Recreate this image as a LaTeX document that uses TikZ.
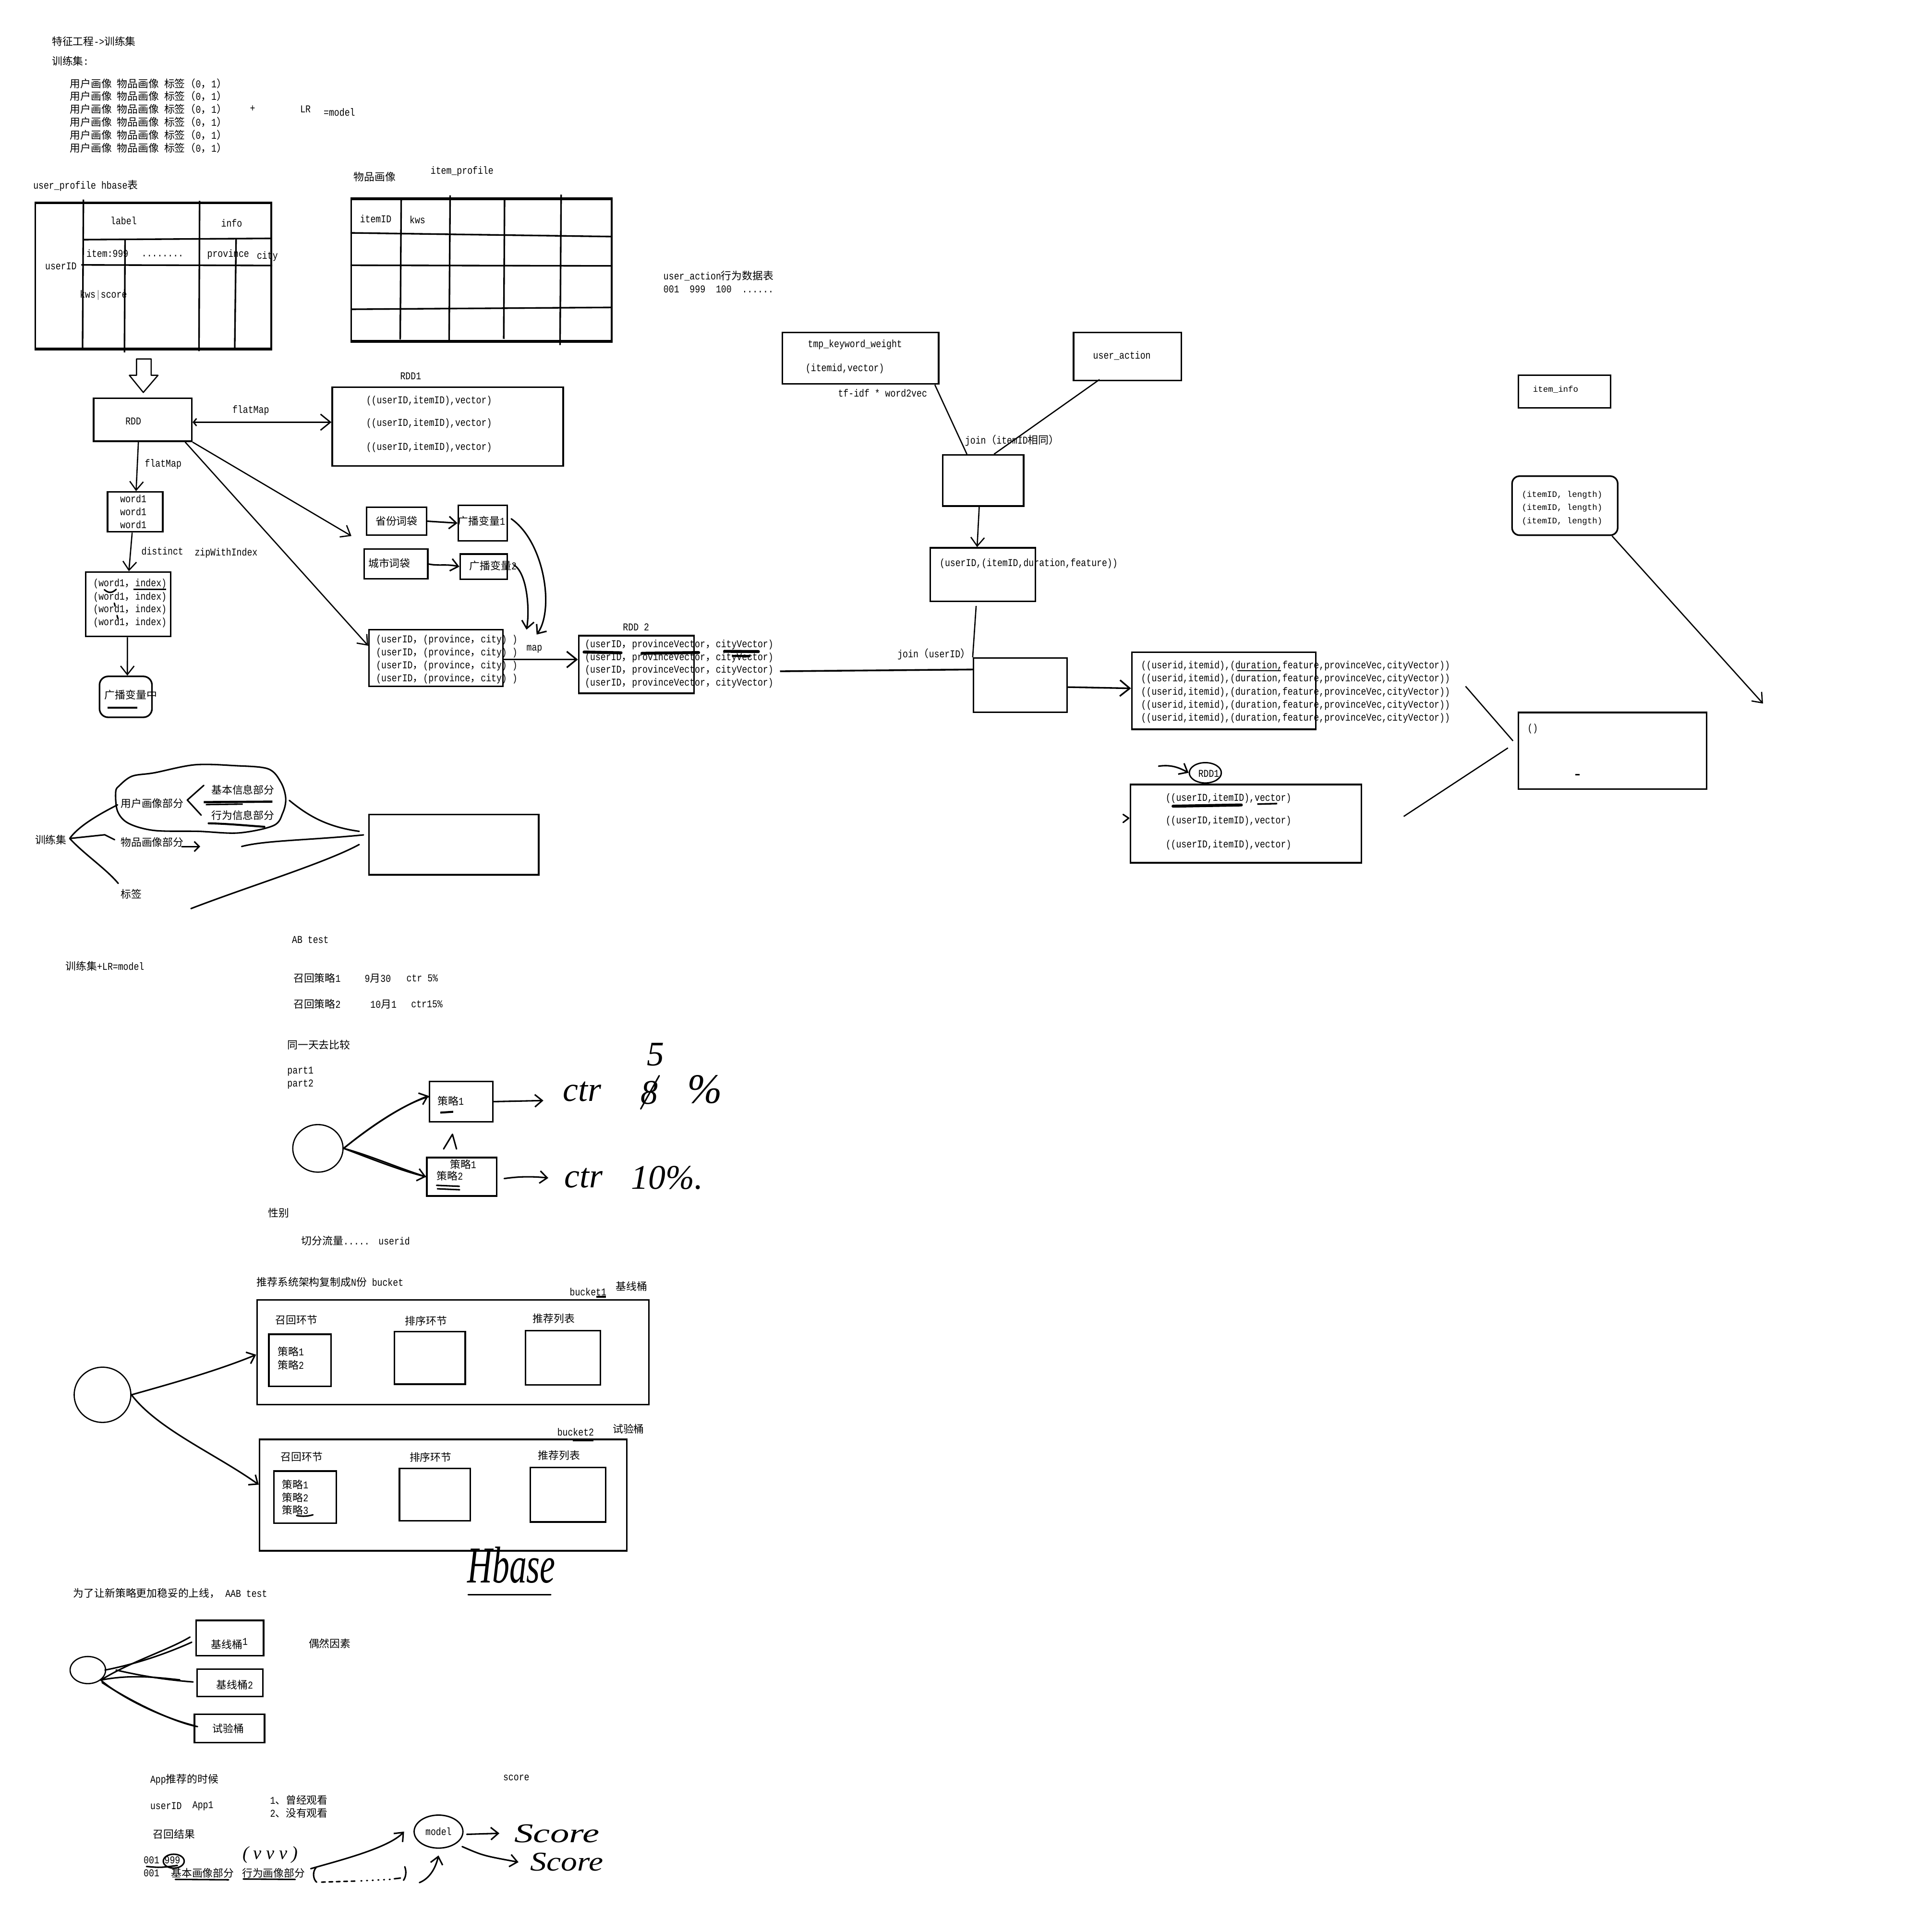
\documentclass[tikz,border=0pt]{standalone}
\usepackage{fontspec}
\setmainfont{Liberation Mono}[FakeStretch=0.833]
\newfontfamily\zhfont{Noto Sans CJK SC}
\newfontfamily\courier{Liberation Mono}
\newfontfamily\hand{Liberation Serif}
\usetikzlibrary{arrows.meta,shapes.geometric}

% CJK characters switch to the CJK family by themselves
\XeTeXinterchartokenstate=1
\newXeTeXintercharclass\zhclass
\newcount\zhcode
\newcommand\setzhrange[3]{%
  \zhcode=#1\relax
  \loop
    \XeTeXcharclass\zhcode=#3\relax
    \ifnum\zhcode<#2\relax
    \advance\zhcode by 1\relax
  \repeat}
\setzhrange{0}{"FF}{0}
\setzhrange{"3000}{"303F}{\zhclass}
\setzhrange{"4E00}{"9FFF}{\zhclass}
\setzhrange{"FF00}{"FFEF}{\zhclass}
\XeTeXinterchartoks 0 \zhclass = {\zhfont}
\XeTeXinterchartoks 4095 \zhclass = {\zhfont}
\XeTeXinterchartoks \zhclass 0 = {\rmfamily}
\XeTeXinterchartoks \zhclass 4095 = {\rmfamily}

\tikzset{
  box/.style={draw,line width=1.3pt,inner sep=0pt,anchor=north west},
  lbl/.style={inner sep=0pt,anchor=west},
  mid/.style={inner sep=0pt},
  ring/.style={draw,ellipse,line width=1pt,inner sep=0pt},
  link/.style={line width=1pt},
  grid/.style={line width=1.3pt},
  arr/.style={line width=1pt,-{Straight Barb[length=7pt,width=11pt]}},
  pen/.style={line width=1.2pt,line cap=round,line join=round},
  penarr/.style={pen,-{Straight Barb[length=6pt,width=10pt]}},
  ink/.style={line width=2.4pt,line cap=round},
  mono/.style={font=\courier\fontsize{6.8}{8}\selectfont},
  hw/.style={inner sep=0pt,font=\hand\itshape\fontsize{28}{30}\selectfont},
}

\begin{document}
\begin{tikzpicture}[x=1pt,y=-1pt,font=\fontsize{8.5}{10}\selectfont]
\useasboundingbox (0,0) rectangle (1549,1568);

% feature engineering notes
\node[lbl] (title) at (42,33.4) {特征工程->训练集};
\node[lbl] (trainhead) at (42,49.4) {训练集:};
\foreach \row [count=\i] in {67.8,78.2,88.7,99.1,109.5,120.1}
  \node[lbl] (sample\i) at (56.6,\row) {用户画像 物品画像 标签（0，1）};
\node[mid] (plus) at (205,88.3) {+};
\node[mid] (lr) at (247.9,88.7) {LR};
\node[lbl] (eqmodel) at (262.5,90.9) {=model};

% user_profile table
\node[lbl] (uptitle) at (26.8,150.6) {user\_profile hbase表};
\node[box,minimum width=191.5,minimum height=117.5] (uptab) at (28,164.5) {};
\draw[line width=2pt] (uptab.north west) -- (uptab.north east) (uptab.south west) -- (uptab.south east);
\draw[grid] (67.7,162) -- (67,284) (162,163) -- (161.5,285) (101.5,194) -- (101,286)
  (191.6,194) -- (190.5,283) (67.7,194.5) -- (219.5,193.5) (66,215) -- (221,215.5);
\node[mid] (uplabel) at (100.3,179.2) {label};
\node[mid] (upinfo) at (188,181.2) {info};
\node[lbl] (upitem) at (70,205.8) {item:999};
\node[lbl] (updots) at (114.7,207.8) {........};
\node[lbl] (upprov) at (168,206.5) {province};
\node[lbl] (upcity) at (208.3,208) {city};
\node[lbl] (upuid) at (36.5,216.2) {userID};
\node[lbl] (upkws) at (64.6,239.6) {kws{\color{gray}|}score};

% item_profile table
\node[lbl] (iptitlezh) at (286.9,143.5) {物品画像};
\node[lbl] (iptitle) at (349.3,139) {item\_profile};
\node[box,minimum width=211.4,minimum height=115] (iptab) at (284.4,161) {};
\draw[line width=2pt] (iptab.north west) -- (iptab.north east) (iptab.south west) -- (iptab.south east);
\draw[grid] (284.4,189) -- (495.8,192) (284.4,215.3) -- (495.8,215.8) (285,251) -- (495.8,249.5)
  (325.6,162) -- (324.8,275.5) (365.3,158.5) -- (364.5,276) (409.5,162) -- (408.8,275)
  (455.4,158) -- (454.5,280);
\node[mid] (ipid) at (304.9,177.7) {itemID};
\node[mid] (ipkws) at (338.8,178.5) {kws};

% hollow arrow down to RDD
\draw[line width=1pt,line join=round] (110.8,291.3) -- (122.7,291.3) -- (122.7,304.6) -- (128.2,304.6)
  -- (116.3,318.5) -- (105,304.6) -- (110.8,304.6) -- cycle;

% RDD pipeline
\node[box,minimum width=79.7,minimum height=35] (rdd) at (75.3,322.5) {};
\node[mid] (rddtxt) at (108.2,342) {RDD};
\node[box,minimum width=187.4,minimum height=63.9] (rddone) at (269,313.5) {};
\node[mid] (rddonetitle) at (333.3,305.2) {RDD1};
\foreach \row [count=\i] in {325.5,343.5,363.2}
  \node[mid] (pairvec\i) at (348.2,\row) {((userID,itemID),vector)};
\draw[line width=1.1pt,{Straight Barb[length=2.5pt,width=6pt]}-{Straight Barb[length=8pt,width=13pt]}]
  ([yshift=-2pt]rdd.east) -- ([yshift=-2pt]rdd.east -| rddone.west);
\node[mid] (flatmapa) at (203.5,333) {flatMap};

\node[box,minimum width=44.8,minimum height=32.4] (wordbox) at (86.6,398.6) {};
\foreach \row [count=\i] in {404.6,415.1,425.7}
  \node[mid] (word\i) at (108.2,\row) {word1};
\draw[arr] ([xshift=-3.5pt]rdd.south) -- ([xshift=0.8pt]wordbox.north);
\node[mid] (flatmapb) at (132.4,376.7) {flatMap};

\node[box,minimum width=69.1,minimum height=52.3] (idxbox) at (68.8,463.6) {};
\foreach \row [count=\i] in {473.8,484.5,495,505.3}
  \node[mid] (wordidx\i) at (105.5,\row) {(word1，index)};
\draw[arr] ([xshift=-2.4pt]wordbox.south) -- ([xshift=0.6pt]idxbox.north);
\node[mid] (distinct) at (131.8,447.3) {distinct};
\node[mid] (zipidx) at (183.5,448.9) {zipWithIndex};
\draw[link] (108.2,478.4) -- (135,478.4);
\draw[pen] (84.7,478.6) .. controls (88,481.5) and (91,481.5) .. (94.3,478.3);
\draw[pen] (92.8,489.5) -- (93.4,492) (95,499.5) -- (95.6,502);

\node[box,rounded corners=7pt,minimum width=42.6,minimum height=33.2] (bcmid) at (80.1,548.3) {};
\node[lbl] (bcmidtxt) at (84.7,564.1) {广播变量中};
\draw[line width=1.6pt] (87.2,574.5) -- (111.4,574.5);
\draw[arr] ([xshift=-0.6pt]idxbox.south) -- ([xshift=1.3pt]bcmid.north);

% broadcast variables
\node[box,minimum width=48.7,minimum height=22.7] (sfbag) at (296.8,411) {省份词袋};
\node[box,minimum width=39.7,minimum height=28.8] (bcone) at (371.3,409.5) {};
\node[lbl] (bconetxt) at (371.5,423) {广播变量1};
\node[box,minimum width=51.5,minimum height=24.2] (csbag) at (295,445) {};
\node[lbl] (csbagtxt) at (298.8,457.1) {城市词袋};
\node[box,minimum width=38.2,minimum height=20.5] (bctwo) at (372.8,449) {};
\node[lbl] (bctwotxt) at (380.8,459) {广播变量2};
\coordinate (sfhint) at (285.2,435);
\draw[arr] (rdd.south east) -- (sfhint);
\draw[penarr] (sfbag.east) -- (bcone.west);
\draw[penarr] (csbag.east) .. controls (356,459.5) and (362,457.5) .. (bctwo.west);

\node[box,minimum width=108.6,minimum height=46] (pcbox) at (298.8,510.4) {};
\foreach \row [count=\i] in {519.5,529.9,540.5,551}
  \node[lbl] (pc\i) at (305,\row) {(userID，(province，city) )};
\draw[arr] ([xshift=-6pt]rdd.south east) -- ([yshift=10pt]pcbox.west);
\coordinate (mapin1) at (435.5,515);
\coordinate (mapin2) at (427.3,511);
\draw[penarr] ([xshift=2.6pt,yshift=3.5pt]bcone.east) .. controls (442,440) and (450,495) .. (mapin1);
\draw[penarr] ([xshift=4.6pt,yshift=1.5pt]bctwo.east) .. controls (428,465) and (430,495) .. (mapin2);

\node[box,minimum width=93.7,minimum height=46.8] (rddtwo) at (469,515.2) {};
\node[mid] (rddtwotitle) at (516.2,509) {RDD 2};
\foreach \row [count=\i] in {523.3,533.7,544.1,554.5}
  \node[lbl] (pv\i) at (474.5,\row) {(userID，provinceVector，cityVector)};
\draw[ink] (474,529.2) -- (504,529.8) (521,530.2) -- (567,529.6) (588,528.6) -- (615.5,528.8);
\draw[line width=1.8pt] (594,532.3) -- (609,532.5);
\draw[line width=1.3pt,-{Straight Barb[length=8pt,width=13pt]}] ([yshift=-1.2pt]pcbox.east) -- ([yshift=-1.2pt]pcbox.east -| rddtwo.west);
\node[mid] (maplbl) at (433.7,526.6) {map};

% user_action join
\node[lbl] (uacttitle) at (538.3,224) {user\_action行为数据表};
\node[lbl] (uactrow) at (538.3,234.8) {001\ \ 999\ \ 100\ \ ......};
\node[box,minimum width=126.7,minimum height=41.9] (tmpkw) at (634.4,269.1) {};
\node[mid] (tmpkwtxt) at (693.9,279.8) {tmp\_keyword\_weight};
\node[mid] (tmpkwvec) at (685.7,299.2) {(itemid,vector)};
\node[mid] (tfidf) at (716.3,319.2) {tf-idf * word2vec};
\node[box,minimum width=87.4,minimum height=38.9] (uact) at (870.6,269.2) {};
\node[mid] (uacttxt) at (910.5,288.5) {user\_action};
\node[box,minimum width=65.7,minimum height=41.4] (joinone) at (764.4,368.6) {};
\draw[link] ([xshift=-3.7pt]tmpkw.south east) -- ([xshift=-13.2pt]joinone.north);
\draw[link] ([xshift=-22.6pt,yshift=1.4pt]uact.south) -- ([xshift=8.8pt]joinone.north);
\node[lbl] (joinitem) at (783,357.3) {join（itemID相同）};
\node[box,minimum width=85.3,minimum height=43.5] (durbox) at (754.3,444) {};
\node[lbl] (durtxt) at (762.4,457.4) {(userID,(itemID,duration,feature))};
\draw[arr] ([xshift=-3.2pt]joinone.south) -- ([xshift=-4.6pt]durbox.north);

\node[box,minimum width=76,minimum height=44] (jointwo) at (789.4,533.4) {};
\coordinate (rddtwoend) at (633,544.8);
\draw[line width=1.4pt] (rddtwoend) -- ([yshift=12.7pt]jointwo.west);
\draw[link] ([xshift=-5.4pt,yshift=-3pt]durbox.south) -- (jointwo.north west);
\node[lbl] (joinuid) at (728.2,530.8) {join（userID）};

\node[box,minimum width=149.2,minimum height=62.4] (fivebox) at (917.9,528.8) {};
\foreach \row [count=\i] in {540.5,551,561.7,572.3,582.7}
  \node[lbl] (feat\i) at (925.9,\row) {((userid,itemid),(duration,feature,provinceVec,cityVector))};
\draw[link] (1004.2,544.4) -- (1039.7,544.4);
\draw[line width=1.3pt,-{Straight Barb[length=8pt,width=13pt]}] ([yshift=-1.6pt]jointwo.east) -- ([yshift=2pt]fivebox.west);

% RDD1 again
\node[ring,line width=1.1pt,minimum width=26,minimum height=16.5] (rddonebub) at (978.2,627.2) {};
\node[mid] (rddonebubtxt) at (981,627.9) {RDD1};
\coordinate (bubhint) at (940.3,621.8);
\draw[penarr] (bubhint) .. controls (950,620.5) and (956,622.5) .. (rddonebub.west);
\node[box,minimum width=187.6,minimum height=63.6] (rddonelow) at (916.7,636) {};
\foreach \row [count=\i] in {648,666.2,685.7}
  \node[lbl] (lowvec\i) at (945.8,\row) {((userID,itemID),vector)};
\draw[ink] (952,654.3) -- (1007.4,653.3);
\draw[line width=1.3pt] (1020.4,652.6) -- (1036.5,652.2);
\draw[pen] (911.5,661) -- (916,664) -- (911.5,667.5);

% result box and item_info
\node[box,minimum width=152.7,minimum height=62.1] (resbox) at (1231.7,577.6) {};
\node[mid] (restxt) at (1243.9,591.5) {()};
\draw[line width=1.2pt] (1278.5,628.8) -- (1282,628.8);
\coordinate (featend) at (1189.4,557);
\coordinate (resin1) at (1227.9,601.3);
\coordinate (lowend) at (1139.2,662.6);
\coordinate (resin2) at (1223.8,607);
\draw[link] (featend) -- (resin1);
\draw[link] (lowend) -- (resin2);

\node[box,minimum width=74.8,minimum height=26.6] (iteminfo) at (1231.7,303.8) {};
\node[mid,mono] (iteminfotxt) at (1262.5,316.2) {item\_info};
\node[box,rounded corners=6pt,minimum width=85.7,minimum height=47.9] (itemlen) at (1226.5,385.8) {};
\foreach \row [count=\i] in {401.9,412.3,423}
  \node[lbl,mono] (len\i) at (1234.9,\row) {(itemID, length)};
\coordinate (lenend) at (1430.8,571);
\draw[arr] ([xshift=-5.2pt]itemlen.south east) -- (lenend);

% training set sketch
\node[lbl] (trainset) at (28.3,681.5) {训练集};
\coordinate (trainroot) at (56.6,680.5);
\node[lbl] (userpart) at (97.8,652) {用户画像部分};
\node[lbl] (itempart) at (97.8,683.5) {物品画像部分};
\node[lbl] (labelpart) at (97.8,725.7) {标签};
\draw[pen] (trainroot) .. controls (64,670) and (82,660) .. (95.4,653.2);
\draw[pen] (trainroot) -- (85,677.5) -- (93,681.5);
\draw[pen] (trainroot) .. controls (68,693) and (86,705) .. (96,717);
\draw[pen,-{Straight Barb[length=4pt,width=8pt]}] (147.5,687) -- (162.5,687);
\draw[pen] plot[smooth cycle,tension=0.55] coordinates {(96.9,637.6) (107.3,629.9) (125.2,627.2)
  (158,620.7) (190.7,621.4) (217.6,624) (228,635) (231.9,648) (229.5,659.7) (222,670)
  (193.7,676) (161,674.7) (125.2,674) (104.3,668.2) (95.4,658.4) (93.9,642.8)};
\draw[pen] (165.4,637.4) -- (152,649.3) -- (163.3,661.6);
\node[lbl] (basicinfo) at (171.4,640.9) {基本信息部分};
\node[lbl] (actinfo) at (171.4,661.6) {行为信息部分};
\draw[line width=1.8pt] (165.4,651) -- (221.1,650.6);
\draw[line width=1.2pt] (167,653) -- (197,652.6);
\draw[pen,line width=1.6pt] (169.3,668.2) .. controls (185,668.5) and (200,670) .. (214.6,671);
\node[box,minimum width=137.7,minimum height=48.9] (trainbox) at (298.9,660.4) {};
\draw[pen] (234.8,649.6) .. controls (250,662) and (265,671) .. (291.5,674.7);
\draw[pen] (196.1,687) .. controls (215,682) and (250,682) .. (295,677.6);
\draw[pen] (155,737.4) .. controls (200,720) and (265,700) .. (291.5,685.4);

% AB test
\node[lbl] (abtest) at (236.8,762.6) {AB test};
\node[lbl] (trainlr) at (53.1,784) {训练集+LR=model};
\node[lbl] (recall1) at (238,793.9) {召回策略1};
\node[lbl] (date1) at (295.8,793.9) {9月30};
\node[lbl] (ctr1) at (329.7,793.9) {ctr 5\%};
\node[lbl] (recall2) at (238,815) {召回策略2};
\node[lbl] (date2) at (300.4,815) {10月1};
\node[lbl] (ctr2) at (333.5,815) {ctr15\%};
\node[lbl] (sameday) at (233,848.1) {同一天去比较};
\node[lbl] (part1) at (233,869.4) {part1};
\node[lbl] (part2) at (233,880.1) {part2};
\node[ring,minimum width=40.8,minimum height=38.6] (abroot) at (258,932) {};
\node[box,minimum width=51.5,minimum height=32.6] (stratone) at (347.8,877.1) {};
\node[lbl] (stratonetxt) at (355,893.5) {策略1};
\draw[line width=1.6pt] (357.3,903) -- (367.8,902.3);
\node[box,minimum width=56.6,minimum height=31.2] (strattwo) at (345.8,938.8) {};
\node[lbl] (strattwoa) at (365,945) {策略1};
\node[lbl] (strattwob) at (354.3,954.5) {策略2};
\draw[pen] (354.3,962) -- (372.8,962.8) (355,964.8) -- (373,965.6);
\draw[penarr] (abroot.east) .. controls (300,915) and (325,898) .. ([yshift=4.7pt]stratone.west);
\draw[pen] (abroot.east) .. controls (302,913) and (328,896) .. ([yshift=4pt]stratone.west);
\draw[penarr] (abroot.east) .. controls (300,940) and (325,950) .. (strattwo.west);
\draw[pen] (abroot.east) .. controls (301,938) and (326,949) .. (strattwo.west);
\draw[pen] (360,932.5) -- (367.2,920.6) -- (370.5,932.5);
\coordinate (ctruptip) at (441,893.2);
\draw[penarr] (stratone.east) -- (ctruptip);
\node[hw] (ctrup) at (472.5,886) {ctr};
\node[hw] (eightup) at (527,887) {8};
\draw[pen] (520,900) -- (535,873);
\node[hw] (fiveup) at (532,856) {5};
\node[hw,font=\hand\itshape\fontsize{34}{36}\selectfont] (pctup) at (572,884) {\%};
\coordinate (ctrlowtail) at (409.2,956.5);
\coordinate (ctrlowtip) at (445,956);
\draw[penarr] (ctrlowtail) .. controls (420,955) and (430,954.5) .. (ctrlowtip);
\node[hw] (ctrlow) at (473.5,956) {ctr};
\node[hw] (tenlow) at (541.5,956) {10\%.};
\node[lbl] (gender) at (217.6,984.4) {性别};
\node[lbl] (splitflow) at (244.5,1007.1) {切分流量.....};
\node[lbl] (splituid) at (307,1007.1) {userid};

% buckets
\node[lbl] (archcopy) at (208.2,1040.3) {推荐系统架构复制成N份 bucket};
\node[lbl] (bucketonelbl) at (462.2,1048.3) {bucket1};
\draw[line width=1.6pt] (483.8,1052.6) -- (491.8,1052.6);
\node[lbl] (baselinelbl) at (499.7,1044) {基线桶};
\node[box,minimum width=318.1,minimum height=85] (bucketone) at (207.9,1054.3) {};
\node[lbl] (b1recalltxt) at (223.4,1071.4) {召回环节};
\node[lbl] (b1ranktxt) at (328.5,1072) {排序环节};
\node[lbl] (b1listtxt) at (432.3,1070.1) {推荐列表};
\node[box,minimum width=50.4,minimum height=42.3] (b1recall) at (217.6,1082.2) {};
\node[lbl] (b1s1) at (225.2,1097.1) {策略1};
\node[lbl] (b1s2) at (225.2,1108) {策略2};
\node[box,minimum width=57.4,minimum height=42.7] (b1rank) at (319.5,1080) {};
\node[box,minimum width=60.9,minimum height=44.2] (b1list) at (425.8,1079.2) {};

\node[lbl] (buckettwolbl) at (452.1,1162.3) {bucket2};
\draw[line width=1.8pt] (464.7,1168.9) -- (481.7,1168.9);
\node[lbl] (triallbl) at (497.1,1159.5) {试验桶};
\node[box,minimum width=298,minimum height=90.4] (buckettwo) at (210,1167.6) {};
\node[lbl] (b2recalltxt) at (227.7,1182.5) {召回环节};
\node[lbl] (b2ranktxt) at (332.2,1182.8) {排序环节};
\node[lbl] (b2listtxt) at (436.6,1181) {推荐列表};
\node[box,minimum width=50.7,minimum height=42.3] (b2recall) at (221.6,1193.3) {};
\node[lbl] (b2s1) at (228.8,1204.8) {策略1};
\node[lbl] (b2s2) at (228.8,1215.4) {策略2};
\node[lbl] (b2s3) at (228.8,1225.7) {策略3};
\draw[pen] (240.7,1230) .. controls (246,1231) and (250,1230.5) .. (254,1229.4);
\node[box,minimum width=57.6,minimum height=42.5] (b2rank) at (323.5,1191) {};
\node[box,minimum width=61.2,minimum height=44.2] (b2list) at (429.8,1190.3) {};

\node[ring,minimum width=46,minimum height=44.8] (bucketroot) at (83.2,1132) {};
\draw[penarr] (bucketroot.east) .. controls (135,1124) and (175,1113) .. ([yshift=-2pt]bucketone.west);
\draw[penarr] (bucketroot.east) .. controls (128,1160) and (175,1180) .. ([yshift=8.5pt]buckettwo.west);
\node[hw,font=\hand\itshape\fontsize{28}{30}\selectfont] (hbase) at (415,1270) {\scalebox{1}[1.5]{Hbase}};
\draw[pen] (380,1294.3) -- (447,1294.3);

% AAB test
\node[lbl] (aabnote) at (59.4,1293.2) {为了让新策略更加稳妥的上线，\ AAB test};
\node[ring,minimum width=28.8,minimum height=22] (aabroot) at (71.3,1355.4) {};
\node[box,minimum width=54.8,minimum height=28.5] (baseone) at (158.5,1314.5) {};
\node[lbl] (baseonetxt) at (171.1,1334) {基线桶\raisebox{2.5pt}{1}};
\node[box,minimum width=53.4,minimum height=22.2] (basetwo) at (159.2,1354) {};
\node[lbl] (basetwotxt) at (175.4,1367.4) {基线桶2};
\node[box,minimum width=56.9,minimum height=23.1] (trialb) at (157.1,1390.5) {};
\node[lbl] (trialtxt) at (172.2,1403) {试验桶};
\node[lbl] (chance) at (250.4,1334) {偶然因素};
\draw[pen] (aabroot.south east) .. controls (105,1349) and (137,1339) .. ([xshift=-4.3pt,yshift=0.8pt]baseone.west);
\draw[pen] ([xshift=-1pt]aabroot.east) .. controls (118,1349) and (144,1338) .. ([xshift=-2.9pt,yshift=-3.4pt]baseone.west);
\draw[pen] (aabroot.south east) .. controls (105,1359) and (125,1361) .. ([xshift=-13.3pt,yshift=2.4pt]basetwo.west);
\draw[pen] ([xshift=8pt]aabroot.east) .. controls (110,1359) and (130,1363) .. ([xshift=-2.5pt,yshift=0.7pt]basetwo.west);
\draw[pen] (aabroot.south east) .. controls (96,1376) and (128,1393) .. ([xshift=1.4pt,yshift=2pt]trialb.west);
\draw[pen] ([xshift=1pt,yshift=-2pt]aabroot.south east) .. controls (108,1382) and (142,1398) .. ([xshift=3.2pt,yshift=1.4pt]trialb.west);

% App recommendation
\node[lbl] (apptime) at (121.8,1444.4) {App推荐的时候};
\node[mid] (scorelbl) at (419,1442.7) {score};
\node[lbl] (uidapp) at (121.8,1465.8) {userID};
\node[lbl] (appone) at (156,1465.8) {App1};
\node[lbl] (watched) at (219,1461) {1、曾经观看};
\node[lbl] (unwatched) at (219,1471.4) {2、没有观看};
\node[lbl] (recallres) at (124,1488.7) {召回结果};
\node[lbl] (rowa) at (116.4,1509.6) {001};
\node[lbl] (rowaitem) at (133.3,1509.6) {999};
\node[ring,line width=1.2pt,minimum width=17,minimum height=11.3] (ringnine) at (141,1510.5) {};
\draw[pen] (118.9,1514.8) .. controls (130,1515.8) .. (144,1514);
\node[lbl] (rowb) at (116.4,1520.1) {001};
\node[lbl] (basicpart) at (138.7,1520.1) {基本画像部分};
\node[lbl] (actpart) at (196.3,1520.1) {行为画像部分};
\draw[pen] (142.3,1525.3) -- (185.5,1525.6) (197.4,1525) -- (239.6,1525.3);
\node[hw,font=\hand\itshape\fontsize{15}{16}\selectfont] (vvv) at (219.4,1505.3) {( v v v )};
\draw[pen] (256.5,1515.7) .. controls (253.5,1519) and (254,1525) .. (257,1527.6);
\draw[pen,dash pattern=on 3pt off 3pt] (261,1527.5) -- (290,1526.6);
\draw[pen,dash pattern=on 0.6pt off 4pt] (293,1526.5) -- (318,1525.2);
\draw[pen] (320,1524.8) -- (325,1524.2);
\draw[pen] (328.5,1515) .. controls (330,1519) and (329.5,1523) .. (327.5,1526);
\node[ring,line width=1.1pt,minimum width=39.6,minimum height=26.8] (model) at (355.9,1486.5) {model};
\coordinate (pathtail) at (252.2,1516.6);
\coordinate (uptail) at (340.4,1527.9);
\draw[penarr] (pathtail) .. controls (275,1510) and (315,1500) .. ([xshift=-7.6pt]model.west);
\draw[penarr] (uptail) .. controls (350,1524) and (354,1514) .. ([yshift=-5.4pt]model.south);
\coordinate (scoretip) at (405.3,1487.9);
\coordinate (scoretiplow) at (420.8,1511.3);
\draw[penarr] ([xshift=2.6pt,yshift=-2.2pt]model.east) -- (scoretip);
\draw[penarr] ([xshift=4.8pt,yshift=-2.3pt]model.south east) .. controls (392,1506) .. (scoretiplow);
\node[hw,font=\hand\itshape\fontsize{22}{24}\selectfont] (scorehanda) at (452,1488) {\scalebox{1.4}[1]{Score}};
\node[hw,font=\hand\itshape\fontsize{22}{24}\selectfont] (scorehandb) at (460,1511) {\scalebox{1.2}[1]{Score}};
\end{tikzpicture}
\end{document}
